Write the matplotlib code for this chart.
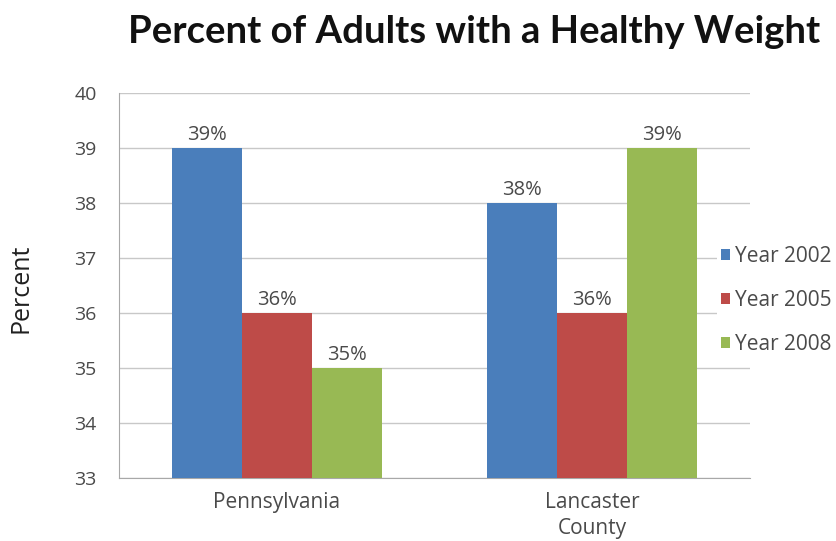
import numpy as np
import matplotlib.pyplot as plt

categories = ['Pennsylvania', 'Lancaster\nCounty']
series_names = ['Year 2002', 'Year 2005', 'Year 2008']
values = {
    'Year 2002': [39, 38],
    'Year 2005': [36, 36],
    'Year 2008': [35, 39],
}
colors = ['#4A7EBB', '#BE4B48', '#98B954']
yticks = [33, 34, 35, 36, 37, 38, 39, 40]

plt.rcParams['font.family'] = ['Open Sans', 'DejaVu Sans']

fig = plt.figure(figsize=(8.37, 5.41), dpi=100)
ax = fig.add_axes([0.1422, 0.1165, 0.754, 0.7115])

x = np.arange(len(categories))
w = 0.222
for i, name in enumerate(series_names):
    pos = x + (i - 1) * w
    ax.bar(pos, np.array(values[name]) - 33, bottom=33, width=w,
           color=colors[i], label=name, zorder=3)
    for xp, v in zip(pos, values[name]):
        ax.text(xp, v + 0.06, f'{v}%', ha='center', va='bottom',
                fontsize=14.5, color='#4a4a4a', zorder=4)

ax.set_xlim(-0.5, 1.5)
ax.set_ylim(33, 40)
ax.set_yticks(yticks)
ax.set_yticklabels([str(t) for t in yticks], fontsize=14, color='#4a4a4a')
ax.set_xticks(x)
ax.set_xticklabels(categories, fontsize=15, color='#4a4a4a', linespacing=1.35)
ax.tick_params(axis='x', length=0, pad=10)
ax.tick_params(axis='y', length=0, pad=16)
ax.grid(axis='y', color='#c8c8c8', linewidth=1, zorder=0)
for s in ['top', 'right']:
    ax.spines[s].set_visible(False)
for s in ['left', 'bottom']:
    ax.spines[s].set_color('#a8a8a8')

fig.text(21 / 837, 1 - 288 / 541, 'Percent', rotation=90, ha='center',
         va='center', fontsize=18, color='#202020')

leg = ax.legend(loc='center left', bbox_to_anchor=(0.947, 0.462), frameon=True,
                fontsize=15, handlelength=0.45, handleheight=0.45,
                handletextpad=0.25, labelspacing=1.1, borderpad=0.2,
                borderaxespad=0)
leg.get_frame().set_edgecolor('none')
leg.get_frame().set_facecolor('white')
leg.get_frame().set_alpha(1)
for t in leg.get_texts():
    t.set_color('#4a4a4a')

fig.text(0.567, 0.94, 'Percent of Adults with a Healthy Weight', ha='center',
         va='center', fontsize=27.5, fontweight='bold', color='#111111',
         family=['Lato', 'DejaVu Sans'])

fig.savefig('out.png', dpi=100)
